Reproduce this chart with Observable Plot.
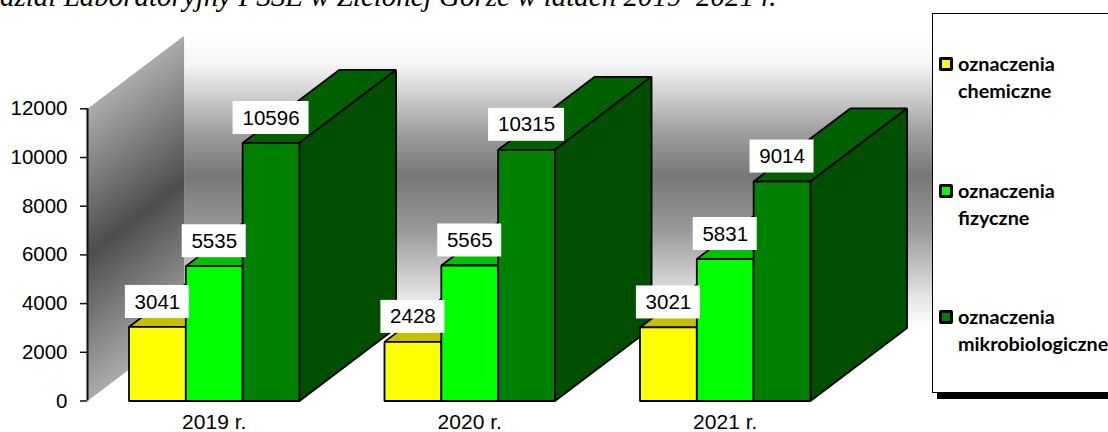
<!DOCTYPE html>
<html lang="pl">
<head>
<meta charset="utf-8">
<script src="https://cdn.jsdelivr.net/npm/d3@7"></script>
<script src="https://cdn.jsdelivr.net/npm/@observablehq/plot@0.6"></script>
<style>
  html, body { margin: 0; padding: 0; background: #fff; width: 1108px; height: 432px; overflow: hidden; }
  #page { position: relative; width: 1108px; height: 432px; overflow: hidden; }
  #page svg { position: absolute; left: 0; top: 0; }
  #title { position: absolute; left: 0; top: -18.5px; white-space: nowrap; font: italic 29px/28px "Liberation Serif", serif; color: #000; }
  #legend { position: absolute; left: 932px; top: 13px; width: 200px; height: 378px; background: #fff; border: 1.5px solid #000; box-shadow: 5px 6px 0 #000; font-family: Lato, sans-serif; font-weight: 700; font-size: 19.8px; line-height: 26.5px; color: #000; }
  .item { position: absolute; left: 25px; white-space: nowrap; }
  .item i { position: absolute; left: -19px; top: 7px; width: 8px; height: 8px; border: 3px solid #000; border-radius: 2px; }
</style>
</head>
<body>
<div id="page">
  <div id="title"></div>
  <div id="legend"></div>
</div>
<script>
const years = ["2019 r.", "2020 r.", "2021 r."];
const chemiczne = [3041, 2428, 3021];
const fizyczne = [5535, 5565, 5831];
const mikrobiologiczne = [10596, 10315, 9014];
const seriesValues = [chemiczne, fizyczne, mikrobiologiczne];
const seriesNames = [["oznaczenia", "chemiczne"], ["oznaczenia", "fizyczne"], ["oznaczenia", "mikrobiologiczne"]];
const frontColors = ["#ffff00", "#00ff00", "#008000"];
const topColors = ["#c4c000", "#00c000", "#006000"];
const sideColors = ["#8c8a00", "#008c00", "#004f00"];
const yTicks = [0, 2000, 4000, 6000, 8000, 10000, 12000];
const titleText = "dział Laboratoryjny PSSE w Zielonej Górze w latach 2019–2021 r.";
const legendTops = [36, 163, 289];

// Chart geometry in data units: one x unit is one year group
const groupGap = 0.1624, barWidth = 0.2224;
const depthX = 0.378, depthY = 3000, yMax = 12000;

const faces = [];
const bars = [];
years.forEach((year, g) => {
  seriesValues.forEach((values, s) => {
    const x0 = g + groupGap + s * barWidth, x1 = x0 + barWidth, v = values[g];
    const face = (kind, color, pts) =>
      pts.forEach(([x, y]) => faces.push({id: `${g}-${s}-${kind}`, color, x, y}));
    face("top", topColors[s], [[x0, v], [x1, v], [x1 + depthX, v + depthY], [x0 + depthX, v + depthY]]);
    face("side", sideColors[s], [[x1, 0], [x1 + depthX, depthY], [x1 + depthX, v + depthY], [x1, v]]);
    face("front", frontColors[s], [[x0, 0], [x1, 0], [x1, v], [x0, v]]);
    bars.push({x: (x0 + x1) / 2, v, label: String(v)});
  });
});

const backWall = [[depthX, depthY], [3 + depthX, depthY], [3 + depthX, yMax + depthY], [depthX, yMax + depthY]]
  .map(([x, y]) => ({x, y}));
const sideWall = [[0, 0], [depthX, depthY], [depthX, yMax + depthY], [0, yMax]]
  .map(([x, y]) => ({x, y}));
const groupCenters = years.map((_, g) => g + groupGap + 1.5 * barWidth);

const labelBox = (digits, half) => Plot.rect(bars.filter(d => d.label.length === digits), {
  x1: "x", x2: "x", y1: "v", y2: "v", fill: "#fff", stroke: "none",
  insetLeft: -half, insetRight: -half, insetTop: -16.5, insetBottom: -16.5, dy: -25
});

const chart = Plot.plot({
  width: 1108, height: 432,
  marginLeft: 87, marginRight: 254.5, marginTop: 108.3, marginBottom: 31.5,
  style: {fontFamily: '"Liberation Sans", Arial, sans-serif', background: "transparent", color: "#000", overflow: "visible"},
  x: {type: "linear", domain: [0, 3], axis: null},
  y: {type: "linear", domain: [0, yMax], axis: null},
  marks: [
    Plot.line(backWall, {x: "x", y: "y", curve: "linear-closed", fill: "url(#wallBack)", stroke: "none"}),
    Plot.line(sideWall, {x: "x", y: "y", curve: "linear-closed", fill: "url(#wallSide)", stroke: "none"}),
    Plot.ruleX([0], {y1: 0, y2: yMax, stroke: "#111", strokeWidth: 2}),
    Plot.axisY({ticks: yTicks, tickFormat: d => String(d), tickSize: 7, tickPadding: 13, fontSize: 20.5, stroke: "#111", strokeWidth: 1.5, label: null}),
    Plot.line(faces, {x: "x", y: "y", z: "id", fill: "color", stroke: "#000", strokeWidth: 1.8, curve: "linear-closed", strokeLinejoin: "miter"}),
    Plot.axisX({ticks: groupCenters, tickFormat: (d, i) => years[i], tickSize: 0, tickPadding: 13.5, fontSize: 21, label: null}),
    labelBox(5, 38),
    labelBox(4, 32),
    Plot.text(bars, {x: "x", y: "v", text: "label", dy: -25, fontSize: 20.5, fill: "#000"})
  ]
});

const ns = "http://www.w3.org/2000/svg";
const defs = document.createElementNS(ns, "defs");
defs.innerHTML = `
  <linearGradient id="wallBack" x1="0" y1="0" x2="0" y2="1">
    <stop offset="0" stop-color="#ffffff"/><stop offset="0.096" stop-color="#f6f6f6"/><stop offset="0.212" stop-color="#cccccc"/><stop offset="0.325" stop-color="#a0a0a0"/><stop offset="0.48" stop-color="#777777"/><stop offset="0.668" stop-color="#9a9a9a"/><stop offset="0.897" stop-color="#e6e6e6"/><stop offset="1" stop-color="#ffffff"/>
  </linearGradient>
  <linearGradient id="wallSide" x1="0.423" y1="0.115" x2="0.577" y2="0.885">
    <stop offset="0" stop-color="#ababab"/><stop offset="0.5" stop-color="#4d4d4d"/><stop offset="1" stop-color="#ababab"/>
  </linearGradient>`;
chart.prepend(defs);

const page = document.getElementById("page");
page.insertBefore(chart, page.firstChild);
document.getElementById("title").textContent = titleText;
const legend = document.getElementById("legend");
seriesNames.forEach((lines, s) => {
  const item = document.createElement("div");
  item.className = "item";
  item.style.top = legendTops[s] + "px";
  const swatch = document.createElement("i");
  swatch.style.background = frontColors[s];
  item.appendChild(swatch);
  lines.forEach(line => {
    const row = document.createElement("div");
    row.textContent = line;
    item.appendChild(row);
  });
  legend.appendChild(item);
});
</script>
</body>
</html>
